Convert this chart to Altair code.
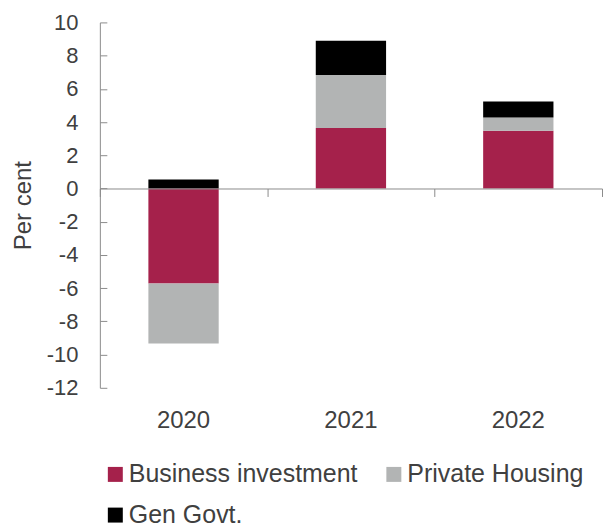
import altair as alt
import pandas as pd

years = ["2020", "2021", "2022"]
series = ["Business investment", "Private Housing", "Gen Govt."]
business = [-5.72, 3.65, 3.47]
housing = [-3.61, 3.19, 0.80]
govt = [0.54, 2.05, 0.97]
colors = ["#A5214B", "#B2B4B4", "#000000"]
y_ticks = list(range(-12, 11, 2))

rows = []
for i, yr in enumerate(years):
    for j, (s, vals) in enumerate(zip(series, [business, housing, govt])):
        rows.append({"year": yr, "series": s, "value": vals[i], "order": j})
df = pd.DataFrame(rows)

W, H = 503, 366
YMIN, YMAX = -12, 10
zero_offset = -H * (0 - YMIN) / (YMAX - YMIN)

y_scale = alt.Scale(domain=[YMIN, YMAX], nice=False, zero=False)
x_scale = alt.Scale(paddingInner=0, paddingOuter=0)
TXT = "#404040"
AXC = "#8c8c8c"

bars = alt.Chart(df).mark_bar(width={"band": 0.42}).encode(
    x=alt.X("year:N", scale=x_scale, sort=years,
            axis=alt.Axis(orient="bottom", title=None, domain=False, ticks=False,
                          labelAngle=0, labelPadding=21, labelFontSize=24,
                          labelColor=TXT, grid=False)),
    y=alt.Y("value:Q", stack="zero", scale=y_scale,
            axis=alt.Axis(title="Per cent", values=y_ticks, domain=True,
                          labelExpr="'' + datum.value",
                          domainColor=AXC, domainWidth=1, ticks=False,
                          labelPadding=22, labelFontSize=22, labelColor=TXT,
                          grid=False, titleFontSize=24, titleFontWeight="normal",
                          titleColor=TXT, titlePadding=11)),
    color=alt.Color("series:N", scale=alt.Scale(domain=series, range=colors),
                    legend=alt.Legend(orient="none", legendX=3, legendY=440,
                                      direction="horizontal", columns=2, title=None,
                                      symbolType="square", symbolSize=225,
                                      symbolStrokeWidth=0, labelFontSize=25,
                                      labelOffset=1, columnPadding=23, rowPadding=15,
                                      labelLimit=500, padding=0, labelColor=TXT)),
    order=alt.Order("order:Q"),
)

guides = alt.Chart(df).mark_bar(opacity=0).encode(
    x=alt.X("year:N", scale=x_scale, sort=years,
            axis=alt.Axis(orient="bottom", title=None, offset=zero_offset,
                          domain=True, domainColor=AXC, ticks=True, tickColor=AXC,
                          tickSize=8, tickBand="extent", labels=False, grid=False,
                          zindex=1)),
    y=alt.Y("value:Q", stack=None, scale=y_scale,
            axis=alt.Axis(orient="right", title=None, offset=-W, values=y_ticks,
                          domain=False, ticks=True, tickColor=AXC, tickSize=7,
                          labels=False, grid=False, zindex=1)),
)

chart = alt.layer(bars, guides).resolve_axis(x="independent", y="independent").properties(
    width=W, height=H,
    padding={"left": 3, "top": 3, "right": 0, "bottom": 0},
).configure(font="Liberation Sans").configure_view(stroke=None)

chart.save("out.html", embed_options={"renderer": "svg", "actions": False})
